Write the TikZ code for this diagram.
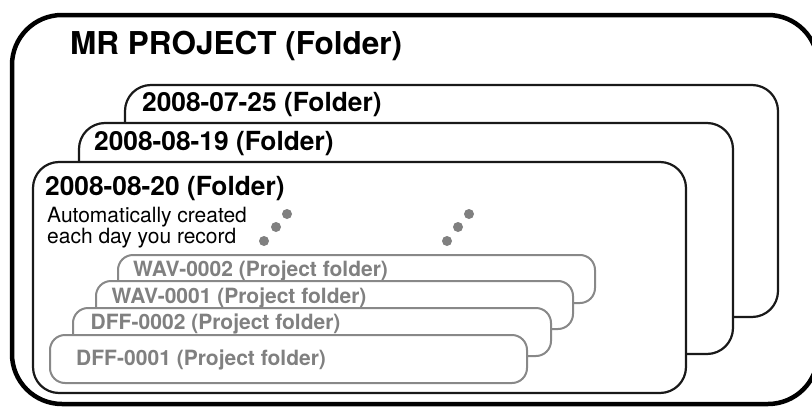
\documentclass[tikz,border=0pt]{standalone}
\usepackage{fontspec}
\setmainfont{TeX Gyre Heros}
\definecolor{pgray}{HTML}{888888}
\definecolor{tgray}{HTML}{808080}
\tikzset{
  x=1pt, y=-1pt,
  outerframe/.style={draw=black, line width=4.5pt, rounded corners=50pt},
  datefolder/.style={draw=black!90, fill=white, line width=2.2pt, rounded corners=26pt},
  projfolder/.style={draw=pgray, fill=white, line width=2pt, rounded corners=15pt},
  titletext/.style={anchor=base west, inner sep=0pt, font=\fontsize{31.5}{34}\selectfont\bfseries},
  datetext/.style={anchor=base west, inner sep=0pt, font=\fontsize{26.3}{28}\selectfont\bfseries},
  notetext/.style={anchor=base west, inner sep=0pt, font=\fontsize{21}{21}\selectfont},
  projtext/.style={anchor=base west, inner sep=0pt, text=tgray, font=\fontsize{21}{22}\selectfont\bfseries},
  dot/.style={fill=tgray, draw=none}
}
\begin{document}
\begin{tikzpicture}
\useasboundingbox (0,0) rectangle (812,407);
\clip (0,0) rectangle (812,407);
% outer frame
\draw[outerframe] (12,15) rectangle (818,404);
\node[titletext] (title) at (70,54) {MR PROJECT (Folder)};
% date folders (back to front)
\draw[datefolder] (125,85) rectangle (778,317);
\node[datetext] (d0725) at (142,111) {2008-07-25 (Folder)};
\draw[datefolder] (79,123) rectangle (733,354);
\node[datetext] (d0819) at (94,150.5) {2008-08-19 (Folder)};
\draw[datefolder] (33,162) rectangle (686,393);
\node[datetext] (d0820) at (45,195) {2008-08-20 (Folder)};
\node[notetext] (auto1) at (47,222) {Automatically created};
\node[notetext] (auto2) at (47,243) {each day you record};
% dots
\fill[dot] (287,214) circle (5);
\fill[dot] (276,227) circle (5);
\fill[dot] (264,241) circle (5);
\fill[dot] (469,214) circle (5);
\fill[dot] (458,227) circle (5);
\fill[dot] (447,241) circle (5);
% project folders (back to front)
\draw[projfolder] (118,255) rectangle (595,303);
\node[projtext] (wav2) at (133,276) {WAV-0002 (Project folder)};
\draw[projfolder] (96,281) rectangle (573,329);
\node[projtext] (wav1) at (111.5,303) {WAV-0001 (Project folder)};
\draw[projfolder] (73,308) rectangle (551,356);
\node[projtext] (dff2) at (90.5,329) {DFF-0002 (Project folder)};
\draw[projfolder] (50,335) rectangle (527,383);
\node[projtext] (dff1) at (76,365) {DFF-0001 (Project folder)};
\end{tikzpicture}
\end{document}
